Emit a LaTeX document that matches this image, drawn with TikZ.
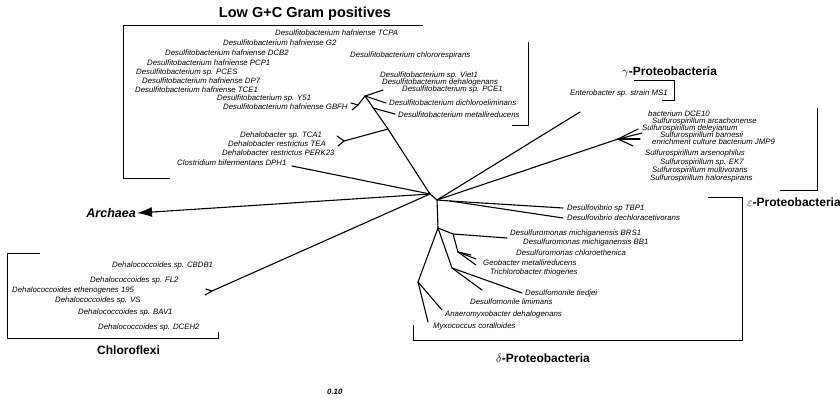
\documentclass[tikz,border=0pt]{standalone}
\usepackage{fontspec}
\setmainfont{Liberation Sans}
\usetikzlibrary{arrows.meta}
\tikzstyle{leaf}=[anchor=west,inner sep=0pt,font=\fontsize{7.8}{8}\selectfont\itshape]
\tikzstyle{group}=[anchor=west,inner sep=0pt,font=\fontsize{12}{14}\selectfont\bfseries]
\tikzstyle{branch}=[draw,line width=1.1pt,line cap=round]
\tikzstyle{bracket}=[draw,line width=0.9pt]

\begin{document}
\begin{tikzpicture}[x=1pt,y=-1pt]
  \useasboundingbox (0,0) rectangle (840,399);
  % centre of the tree
  \coordinate (c1) at (430,194);
  \coordinate (c2) at (437,200);
  % Low G+C Gram positives
  \coordinate (n1)   at (388,129);
  \coordinate (n2)   at (365,96);
  \coordinate (nm)   at (373,108);
  \coordinate (hf)   at (358,105);
  \coordinate (hfa)  at (351,103);
  \coordinate (hfb)  at (352,110);
  \coordinate (vt)   at (383,90);
  \coordinate (dce)  at (386,103);
  \coordinate (met)  at (395,114);
  \coordinate (dhb)  at (344,141);
  \coordinate (dhba) at (337,136);
  \coordinate (dhbb) at (338,146);
  \coordinate (clo)  at (292,166);
  % Chloroflexi
  \coordinate (cf)   at (212,291);
  \coordinate (cfa)  at (205,295);
  \coordinate (cfb)  at (206,289);
  % gamma and epsilon
  \coordinate (ent)  at (580,112);
  \coordinate (e1)   at (618,139);
  \coordinate (e1a)  at (638,129);
  \coordinate (e1b)  at (642,133);
  \coordinate (e1c)  at (640,139);
  \coordinate (e1d)  at (633,146);
  % delta
  \coordinate (dv)   at (450,201);
  \coordinate (tbp)  at (563,208);
  \coordinate (dca)  at (563,218);
  \coordinate (d0)   at (438,228);
  \coordinate (dm)   at (453,234);
  \coordinate (mich) at (507,238);
  \coordinate (dg)   at (458,252);
  \coordinate (dga)  at (471,255);
  \coordinate (dgb)  at (476,259);
  \coordinate (dgc)  at (476,265);
  \coordinate (dt)   at (452,268);
  \coordinate (tie)  at (522,293);
  \coordinate (lim)  at (482,290);
  \coordinate (da)   at (418,282);
  \coordinate (ana)  at (442,310);
  \coordinate (myx)  at (428,322);

  % leaves: Low G+C
  \node[font=\fontsize{14.5}{16}\selectfont\bfseries] (lowgc) at (305,14) {Low G+C Gram positives};
  \node[leaf] (tcpa)  at (275,33)  {Desulfitobacterium hafniense TCPA};
  \node[leaf] (g2)    at (223,43)  {Desulfitobacterium hafniense G2};
  \node[leaf] (dcb2)  at (165,53)  {Desulfitobacterium hafniense DCB2};
  \node[leaf] (chlr)  at (350,55)  {Desulfitobacterium chlororespirans};
  \node[leaf] (pcp1)  at (147,63)  {Desulfitobacterium hafniense PCP1};
  \node[leaf] (pces)  at (136,72)  {Desulfitobacterium sp. PCES};
  \node[leaf] (dp7)   at (142,81)  {Desulfitobacterium hafniense DP7};
  \node[leaf] (tce1)  at (135,90)  {Desulfitobacterium hafniense TCE1};
  \node[leaf] (y51)   at (217,98)  {Desulfitobacterium sp. Y51};
  \node[leaf] (gbfh)  at (223,107) {Desulfitobacterium hafniense GBFH};
  \node[leaf] (viet)  at (380,75)  {Desulfitobacterium sp. Viet1};
  \node[leaf] (dehal) at (382,82)  {Desulfitobacterium dehalogenans};
  \node[leaf] (pce1)  at (402,89)  {Desulfitobacterium sp. PCE1};
  \node[leaf] (dichl) at (389,103) {Desulfitobacterium dichloroeliminans};
  \node[leaf] (metal) at (398,115) {Desulfitobacterium metallireducens};
  \node[leaf] (tca1)  at (240,135) {Dehalobacter sp. TCA1};
  \node[leaf] (tea)   at (228,144) {Dehalobacter restrictus TEA};
  \node[leaf] (perk)  at (222,153) {Dehalobacter restrictus PERK23};
  \node[leaf] (dph1)  at (177,163) {Clostridium bifermentans DPH1};
  % Archaea and Chloroflexi
  \node[anchor=east,inner sep=1pt,font=\fontsize{12.5}{14}\selectfont\bfseries\itshape] (archaea) at (137,213) {Archaea};
  \node[leaf] (cbdb1) at (112,265) {Dehalococcoides sp. CBDB1};
  \node[leaf] (fl2)   at (90,280)  {Dehalococcoides sp. FL2};
  \node[leaf] (eth)   at (12,290)  {Dehalococcoides ethenogenes 195};
  \node[leaf] (vs)    at (55,300)  {Dehalococcoides sp. VS};
  \node[leaf] (bav1)  at (78,312)  {Dehalococcoides sp. BAV1};
  \node[leaf] (dceh2) at (98,327)  {Dehalococcoides sp. DCEH2};
  \node[group] (chloroflexi) at (97,350) {Chloroflexi};
  % Proteobacteria
  \node[group] (gamma) at (622,72) {$\gamma$-Proteobacteria};
  \node[leaf] (ms1)   at (570,93)  {Enterobacter sp. strain MS1};
  \node[leaf] (dce10) at (648,114) {bacterium DCE10};
  \node[leaf] (arca)  at (652,121) {Sulfurospirillum arcachonense};
  \node[leaf] (deley) at (642,128) {Sulfurospirillum deleyianum};
  \node[leaf] (barn)  at (660,135) {Sulfurospirillum barnesii};
  \node[leaf] (jmp9)  at (652,142) {enrichment culture bacterium JMP9};
  \node[leaf] (arsen) at (645,153) {Sulfurospirillum arsenophilus};
  \node[leaf] (ek7)   at (660,162) {Sulfurospirillum sp. EK7};
  \node[leaf] (multi) at (652,170) {Sulfurospirillum multivorans};
  \node[leaf] (halo)  at (650,178) {Sulfurospirillum halorespirans};
  \node[group] (epsilon) at (747,202) {$\varepsilon$-Proteobacteria};
  \node[leaf] (tbp1)  at (567,208) {Desulfovibrio sp TBP1};
  \node[leaf] (dchl)  at (567,218) {Desulfovibrio dechloracetivorans};
  \node[leaf] (brs1)  at (510,233) {Desulfuromonas michiganensis BRS1};
  \node[leaf] (bb1)   at (523,242) {Desulfuromonas michiganensis BB1};
  \node[leaf] (chle)  at (516,253) {Desulfuromonas chloroethenica};
  \node[leaf] (geo)   at (483,263) {Geobacter metallireducens};
  \node[leaf] (tri)   at (490,272) {Trichlorobacter thiogenes};
  \node[leaf] (tied)  at (525,293) {Desulfomonile tiedjei};
  \node[leaf] (limi)  at (470,302) {Desulfomonile limimaris};
  \node[leaf] (anae)  at (445,314) {Anaeromyxobacter dehalogenans};
  \node[leaf] (myxo)  at (433,326) {Myxococcus coralloides};
  \node[group] (delta) at (496,358) {$\delta$-Proteobacteria};
  \node[anchor=west,inner sep=0pt,font=\fontsize{7.8}{8}\selectfont\bfseries\itshape] (scale) at (327,392) {0.10};

  % branches
  \draw[branch] (c1) -- (c2);
  \draw[branch] (c1) -- (n1) -- (n2) -- (hf) -- (hfa);
  \draw[branch] (hf) -- (hfb);
  \draw[branch] (n2) -- (vt);
  \draw[branch] (n2) -- (dce);
  \draw[branch] (nm) -- (met);
  \draw[branch] (n1) -- (dhb) -- (dhba);
  \draw[branch] (dhb) -- (dhbb);
  \draw[branch] (c1) -- (clo);
  \draw[branch,-{Latex[length=15pt,width=10pt]}] (c1) -- (archaea.east);
  \draw[branch] (c1) -- (cf) -- (cfa);
  \draw[branch] (cf) -- (cfb);
  \draw[branch] (c2) -- (ent);
  \draw[branch] (c2) -- (e1) -- (e1a);
  \draw[branch] (e1) -- (e1b);
  \draw[branch] (e1) -- (e1c);
  \draw[branch] (e1) -- (e1d);
  \draw[branch] (c2) -- (dv) -- (tbp);
  \draw[branch] (dv) -- (dca);
  \draw[branch] (c2) -- (d0) -- (dm) -- (mich);
  \draw[branch] (dm) -- (dg) -- (dga);
  \draw[branch] (dg) -- (dgb);
  \draw[branch] (dg) -- (dgc);
  \draw[branch] (d0) -- (dt) -- (tie);
  \draw[branch] (dt) -- (lim);
  \draw[branch] (d0) -- (da) -- (ana);
  \draw[branch] (da) -- (myx);

  % brackets
  \draw[bracket] (170,178) -- (123,178) -- (123,25) -- (423,25);
  \draw[bracket] (528,42) -- (528,125) -- (512,125);
  \draw[bracket] (634,80) -- (674,80) -- (674,100) -- (662,100);
  \draw[bracket] (817,108) -- (817,190) -- (780,190);
  \draw[bracket] (708,197) -- (742,197) -- (742,340) -- (413,340) -- (413,325);
  \draw[bracket] (40,253) -- (7,253) -- (7,338) -- (218,338) -- (218,332);
\end{tikzpicture}
\end{document}
